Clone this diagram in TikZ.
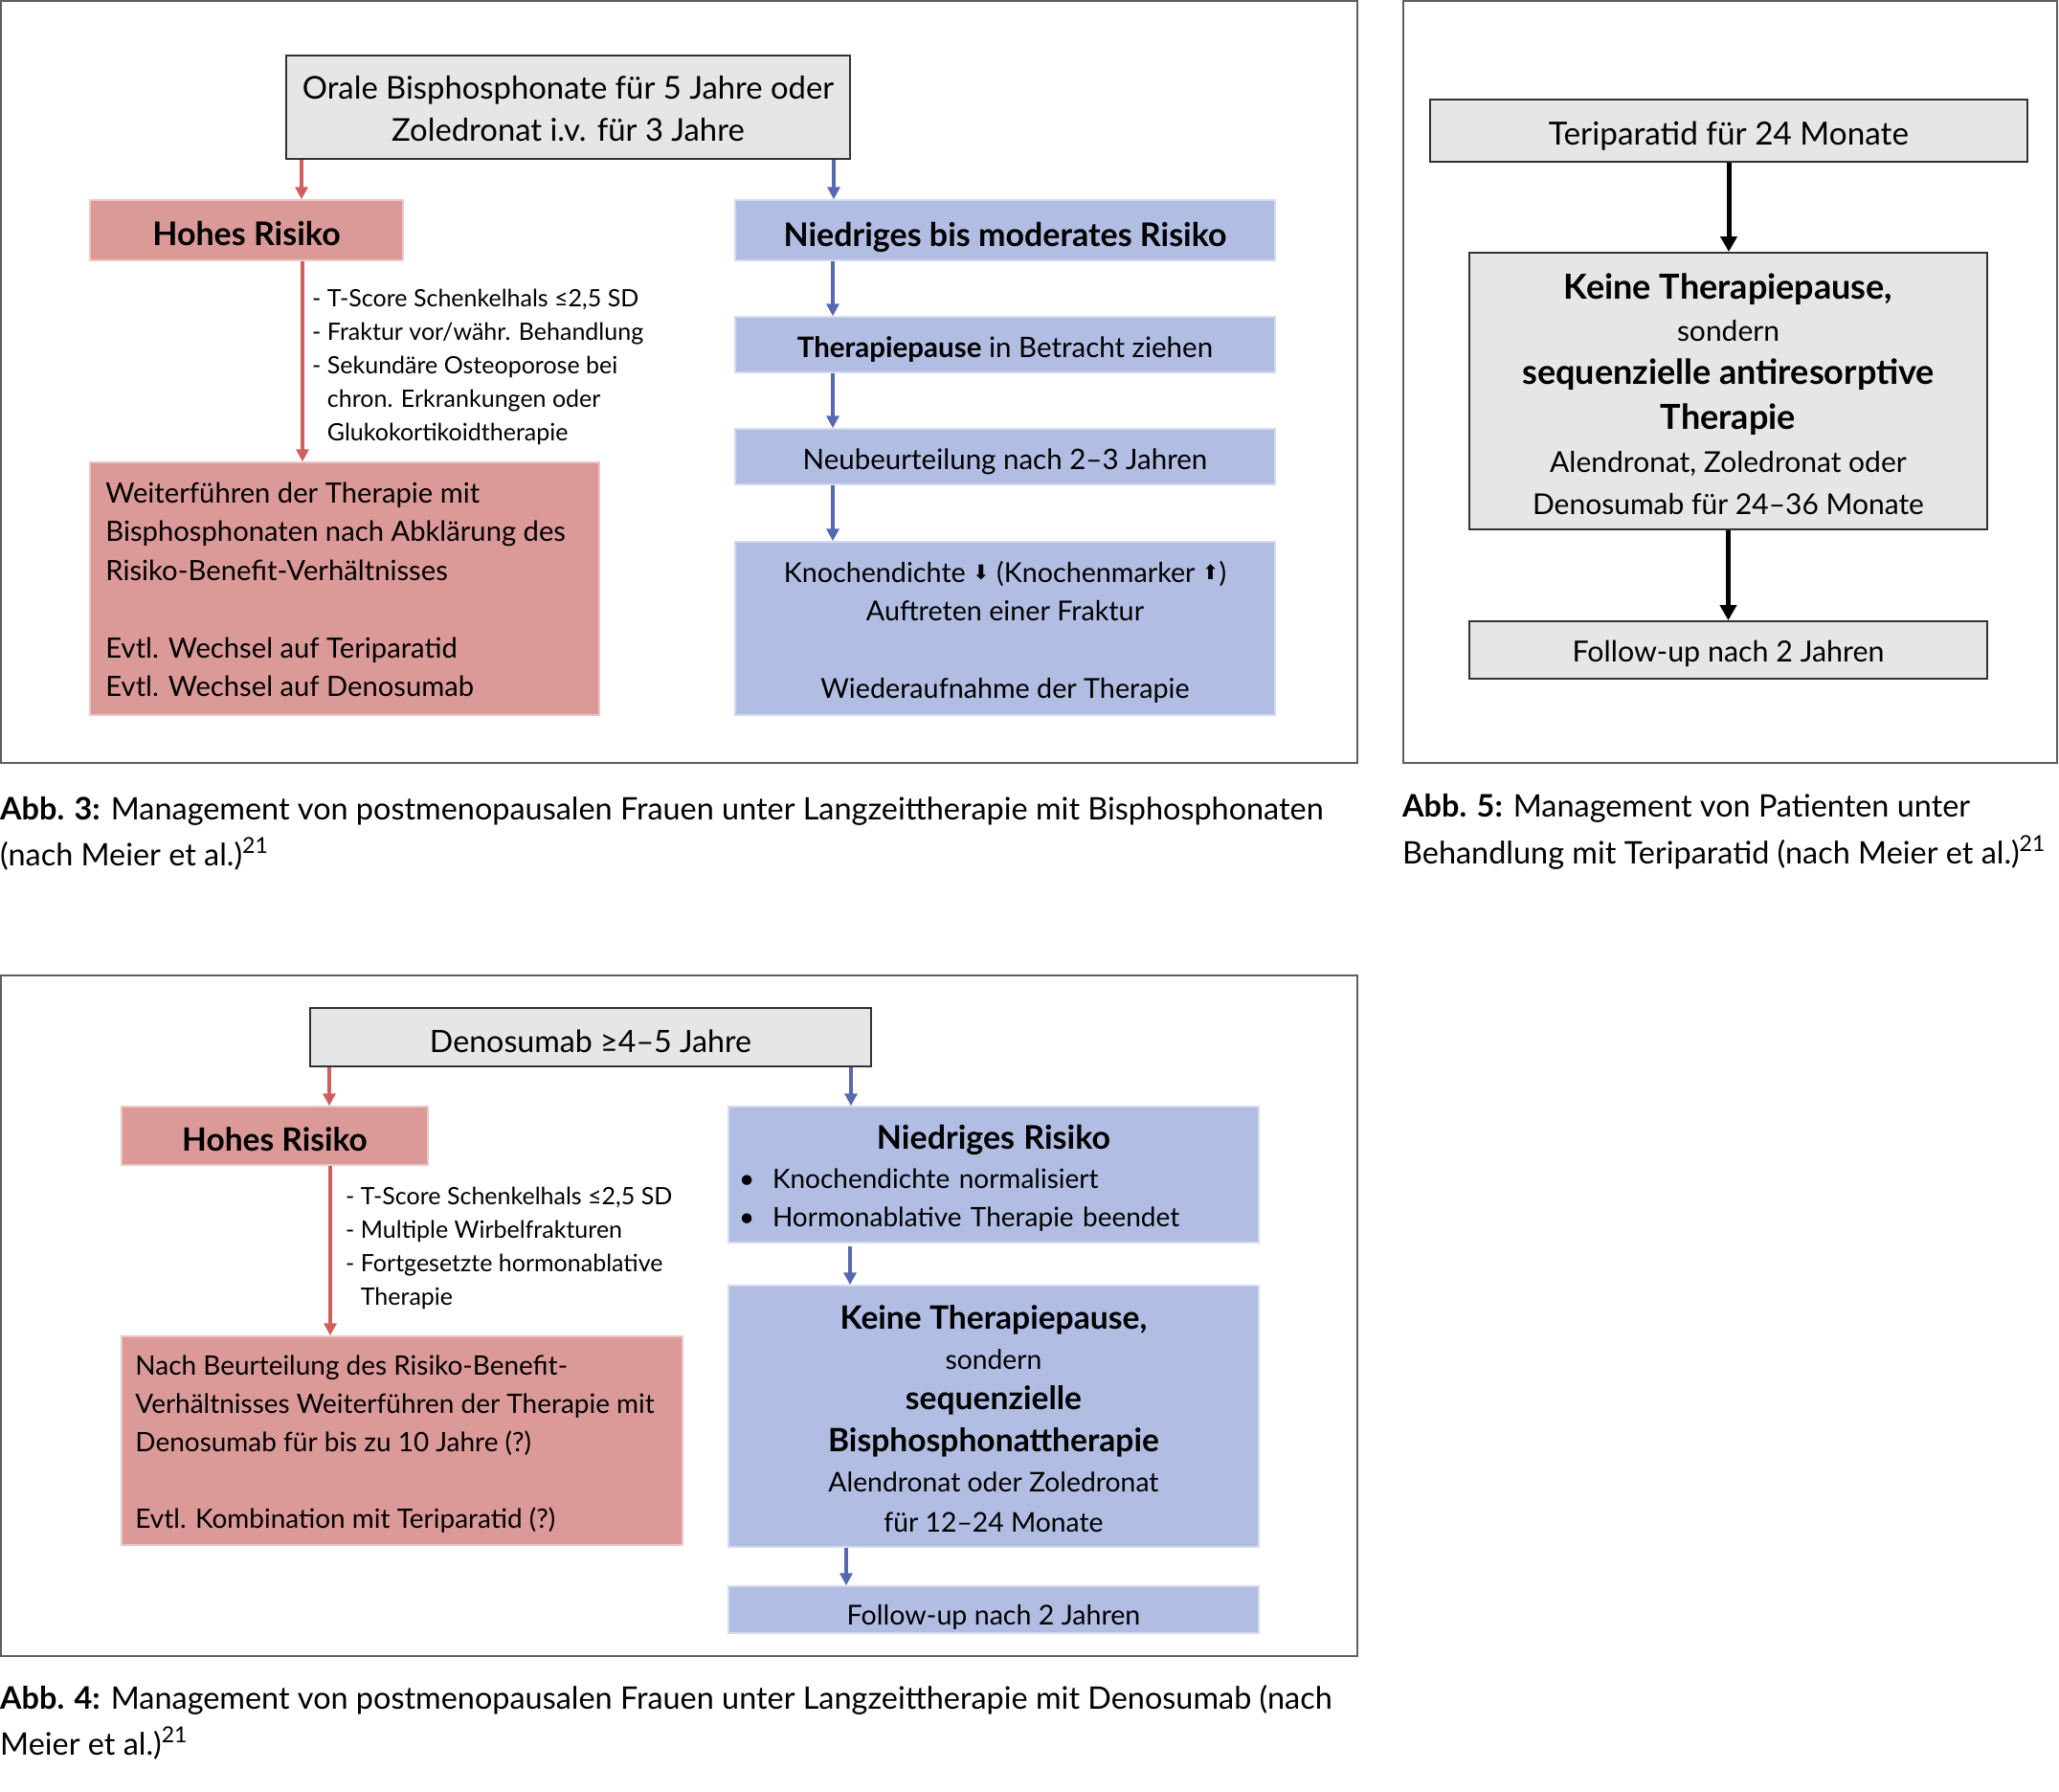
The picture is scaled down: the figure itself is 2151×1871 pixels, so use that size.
\documentclass[tikz,border=0pt]{standalone}
\usepackage{fontspec}
\setmainfont{Lato}
\newfontfamily\symf{DejaVu Sans}
\usetikzlibrary{arrows.meta}
\definecolor{rfill}{RGB}{219,153,152}
\definecolor{bfill}{RGB}{177,189,227}
\definecolor{gfill}{RGB}{230,230,230}
\definecolor{rline}{RGB}{207,95,93}
\definecolor{bline}{RGB}{86,104,178}
\definecolor{framec}{RGB}{95,95,95}
\newcommand{\setfs}[2]{\fontsize{#1}{#2}\selectfont}
\newcommand{\darr}{\raisebox{3pt}{\symf\fontsize{21}{21}\selectfont ⬇}}
\newcommand{\uarr}{\raisebox{3pt}{\symf\fontsize{21}{21}\selectfont ⬆}}
\newcommand{\bul}{\makebox[25pt][l]{\hspace{-10pt}•}}
\begin{document}
\begin{tikzpicture}[x=1pt,y=-1pt,
 panel/.style={draw=framec,line width=2pt},
 gbox/.style={draw=black!80,line width=2pt,fill=gfill,inner sep=0pt},
 rbox/.style={draw=rfill!55!white,line width=1.5pt,fill=rfill,inner sep=0pt},
 bbox/.style={draw=bfill!55!white,line width=1.5pt,fill=bfill,inner sep=0pt},
 tx/.style={inner sep=0pt,align=center},
 rarr/.style={draw=rline,line width=3.5pt,-{Triangle[width=13pt,length=13pt]}},
 barr/.style={draw=bline,line width=3.5pt,-{Triangle[width=13pt,length=13pt]}},
 karr/.style={draw=black,line width=5pt,-{Triangle[width=17pt,length=16pt]}},
 txt/.style={inner sep=0pt,align=left,anchor=west},
 capt/.style={inner sep=0pt,anchor=base west,font=\setfs{32.4}{48}},
]
\fill[white] (0,0) rectangle (2151,1871);
\useasboundingbox (0,0) rectangle (2151,1871);

% panel frames
\draw[panel] (1,1) rectangle (1418,797);
\draw[panel] (1466,1) rectangle (2149,797);
\draw[panel] (1,1019) rectangle (1418,1730);

% ---------- Abb. 3 ----------
\node[gbox,minimum width=589pt,minimum height=108pt] (orale) at (593.5,112) {};
\node[tx,font=\setfs{32.8}{44}] (oralet) at ([yshift=-2pt]orale.center)
  {Orale Bisphosphonate für 5 Jahre oder\\Zoledronat i.v. für 3 Jahre};
\node[rbox,minimum width=327pt,minimum height=63pt] (hohes3) at (257.5,240.5) {};
\node[tx,font=\bfseries\setfs{34}{40}] (hohes3t) at ([yshift=-4pt]hohes3.center) {Hohes Risiko};
\node[bbox,minimum width=564pt,minimum height=63pt] (nied3) at (1050,240.5) {};
\node[tx,font=\bfseries\setfs{34}{40}] (nied3t) at ([yshift=-7pt]nied3.center) {Niedriges bis moderates Risiko};
\node[bbox,minimum width=564pt,minimum height=58pt] (pause) at (1050,360) {};
\node[tx,font=\setfs{29.5}{40}] (pauset) at ([yshift=-5.5pt]pause.center) {\textbf{Therapiepause} in Betracht ziehen};
\node[bbox,minimum width=564pt,minimum height=58pt] (neu) at (1050,477) {};
\node[tx,font=\setfs{29.5}{40}] (neut) at ([yshift=-5.5pt]neu.center) {Neubeurteilung nach 2–3 Jahren};
\node[bbox,minimum width=564pt,minimum height=181pt] (knochen) at (1050,656.5) {};
\node[tx,font=\setfs{28.7}{40.5}] (knochent) at ([yshift=-4pt]knochen.center)
  {Knochendichte \darr{} (Knochenmarker \uarr)\\Auftreten einer Fraktur\\[40.5pt]Wiederaufnahme der Therapie};
\node[rbox,minimum width=532pt,minimum height=264pt] (weiter) at (360,615) {};
\node[txt,font=\setfs{29.2}{40.5}] (weitertxt) at ([xshift=17pt,yshift=-1pt]weiter.west)
  {Weiterführen der Therapie mit\\Bisphosphonaten nach Abklärung des\\Risiko-Benefit-Verhältnisses\\[40.5pt]Evtl. Wechsel auf Teriparatid\\Evtl. Wechsel auf Denosumab};
\node[txt,font=\setfs{25}{35}] (list3) at (326,383)
  {- T-Score Schenkelhals ≤2,5 SD\\- Fraktur vor/währ. Behandlung\\- Sekundäre Osteoporose bei\\\hphantom{-}\ chron. Erkrankungen oder\\\hphantom{-}\ Glukokortikoidtherapie};

\draw[rarr] ([xshift=17pt]orale.south west) -- ([xshift=17pt]orale.south west |- hohes3.north);
\draw[barr] ([xshift=-18pt]orale.south east) -- ([xshift=-18pt]orale.south east |- nied3.north);
\draw[rarr] ([xshift=58.5pt]hohes3.south) -- ([xshift=58.5pt]hohes3.south |- weiter.north);
\draw[barr] ([xshift=-180pt]nied3.south) -- ([xshift=-180pt]nied3.south |- pause.north);
\draw[barr] ([xshift=-180pt]pause.south) -- ([xshift=-180pt]pause.south |- neu.north);
\draw[barr] ([xshift=-180pt]neu.south) -- ([xshift=-180pt]neu.south |- knochen.north);

\node[capt] (cap3a) at (0,856) {\textbf{Abb. 3:} Management von postmenopausalen Frauen unter Langzeittherapie mit Bisphosphonaten};
\node[capt] (cap3b) at (0,904) {(nach Meier et al.)\raisebox{13pt}{\setfs{23}{23}21}};

% ---------- Abb. 5 ----------
\node[gbox,minimum width=624pt,minimum height=65pt] (teri) at (1806,136.5) {};
\node[tx,font=\setfs{33.3}{40}] (terit) at ([yshift=-5.5pt]teri.center) {Teriparatid für 24 Monate};
\node[gbox,minimum width=541pt,minimum height=289pt] (keine5) at (1805.5,408.5) {};
\node[tx,font=\setfs{30}{44.5}] (keine5t) at ([yshift=-3pt]keine5.center)
  {{\bfseries\setfs{36}{44.5}Keine Therapiepause,}\\sondern\\{\bfseries\setfs{36}{44.5}sequenzielle antiresorptive}\\[3pt]{\bfseries\setfs{36}{44.5}Therapie}\\Alendronat, Zoledronat oder\\Denosumab für 24–36 Monate};
\node[gbox,minimum width=541pt,minimum height=60pt] (follow5) at (1805.5,679) {};
\node[tx,font=\setfs{30.4}{40}] (follow5t) at ([yshift=-4pt]follow5.center) {Follow-up nach 2 Jahren};
\draw[karr] (teri.south) -- (teri.south |- keine5.north);
\draw[karr] (keine5.south) -- (follow5.north);

\node[capt] (cap5a) at (1465,853) {\textbf{Abb. 5:} Management von Patienten unter};
\node[capt] (cap5b) at (1465,902) {Behandlung mit Teriparatid (nach Meier et al.)\raisebox{13pt}{\setfs{23}{23}21}};

% ---------- Abb. 4 ----------
\node[gbox,minimum width=586pt,minimum height=61pt] (deno) at (617,1083.5) {};
\node[tx,font=\setfs{32.2}{40}] (denot) at ([yshift=-4pt]deno.center) {Denosumab ≥4–5 Jahre};
\node[rbox,minimum width=320pt,minimum height=61pt] (hohes4) at (287,1186.5) {};
\node[tx,font=\bfseries\setfs{33.5}{40}] (hohes4t) at ([yshift=-4pt]hohes4.center) {Hohes Risiko};
\node[bbox,minimum width=554pt,minimum height=142pt] (nied4) at (1038,1227) {};
\node[tx,text width=512pt,align=left,font=\setfs{28}{40.5}] (nied4t) at ([yshift=-4pt]nied4.center)
  {\makebox[512pt]{\bfseries\setfs{34}{40.5}Niedriges Risiko}\\\bul Knochendichte normalisiert\\\bul Hormonablative Therapie beendet};
\node[bbox,minimum width=554pt,minimum height=273pt] (keine4) at (1038,1479.5) {};
\node[tx,font=\setfs{28.3}{42}] (keine4t) at ([yshift=-2.5pt]keine4.center)
  {{\bfseries\setfs{33.6}{42}Keine Therapiepause,}\\sondern\\{\bfseries\setfs{33.6}{42}sequenzielle}\\[2pt]{\bfseries\setfs{33.6}{42}Bisphosphonattherapie}\\Alendronat oder Zoledronat\\für 12–24 Monate};
\node[bbox,minimum width=554pt,minimum height=49pt] (follow4) at (1038,1681.5) {};
\node[tx,font=\setfs{28.6}{40}] (follow4t) at ([yshift=-8pt]follow4.center) {Follow-up nach 2 Jahren};
\node[rbox,minimum width=586pt,minimum height=218pt] (nach) at (420,1505) {};
\node[txt,font=\setfs{27.95}{40}] (nachtxt) at ([xshift=15pt,yshift=-4pt]nach.west)
  {Nach Beurteilung des Risiko-Benefit-\\Verhältnisses Weiterführen der Therapie mit\\Denosumab für bis zu 10 Jahre (?)\\[40pt]Evtl. Kombination mit Teriparatid (?)};
\node[txt,font=\setfs{25}{35}] (list4) at (361,1304)
  {- T-Score Schenkelhals ≤2,5 SD\\- Multiple Wirbelfrakturen\\- Fortgesetzte hormonablative\\\hphantom{-}\ Therapie};

\draw[rarr] ([xshift=21pt]deno.south west) -- ([xshift=21pt]deno.south west |- hohes4.north);
\draw[barr] ([xshift=-22pt]deno.south east) -- ([xshift=-22pt]deno.south east |- nied4.north);
\draw[rarr] ([xshift=58pt]hohes4.south) -- ([xshift=58pt]hohes4.south |- nach.north);
\draw[barr] ([xshift=-150pt,yshift=-3pt]nied4.south) -- ([xshift=-150pt]nied4.south |- keine4.north);
\draw[barr] ([xshift=-154pt]keine4.south) -- ([xshift=-154pt]keine4.south |- follow4.north);

\node[capt] (cap4a) at (0,1785) {\textbf{Abb. 4:} Management von postmenopausalen Frauen unter Langzeittherapie mit Denosumab (nach};
\node[capt] (cap4b) at (0,1833) {Meier et al.)\raisebox{13pt}{\setfs{23}{23}21}};
\end{tikzpicture}
\end{document}
